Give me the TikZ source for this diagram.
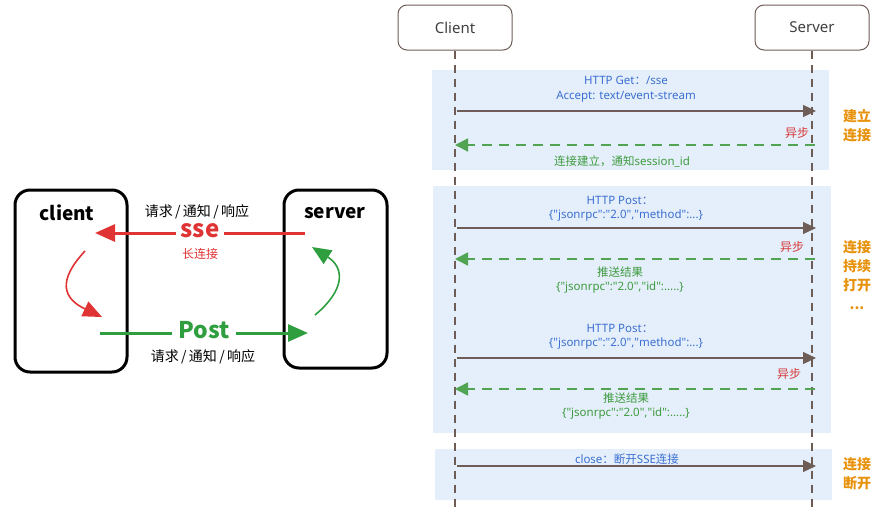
\documentclass[tikz,border=0pt]{standalone}
\usepackage{fontspec}
\setmainfont{Noto Sans}
\newfontfamily\cjk{Noto Sans CJK SC}
\usetikzlibrary{arrows.meta}
\definecolor{bluet}{HTML}{3C6FD1}
\definecolor{greent}{HTML}{3E9A3E}
\definecolor{redt}{HTML}{D63A3A}
\definecolor{oranget}{HTML}{E8920C}
\definecolor{brownl}{HTML}{6E5C56}
\definecolor{bgblue}{HTML}{E4EFFB}
\definecolor{redl}{HTML}{E03333}
\definecolor{greenl}{HTML}{2F9E3F}
\newcommand\qq{\textquotedbl}
\tikzset{
  fs/.style={font=\fontsize{#1}{#1}\selectfont},
  bigbox/.style={draw=black, line width=3, rounded corners=15, inner sep=0},
  actor/.style={draw=brownl, line width=1, rounded corners=9, minimum width=114, minimum height=45, fs=15, text=black!75},
  lifeline/.style={draw=brownl, line width=1.3, dash pattern=on 8pt off 6pt},
  bgband/.style={fill=bgblue, draw=none},
  callarrow/.style={draw=brownl, line width=1.2, -{Triangle[length=13,width=12]}},
  backarrow/.style={draw=greent!90, line width=1.6, dash pattern=on 10pt off 7pt, -{Triangle[length=13,width=13]}},
  bluetxt/.style={text=bluet, fs=11.5, inner sep=1},
  greentxt/.style={text=greent, fs=11.5, inner sep=1},
  asynctxt/.style={text=redt, font=\cjk\fontsize{12}{12}\selectfont, inner sep=1},
  phasetxt/.style={text=oranget, font=\cjk\bfseries\fontsize{14}{19}\selectfont, align=center, inner sep=1},
  handbig/.style={font=\cjk\bfseries\fontsize{#1}{#1}\selectfont},
  bigarrowR/.style={draw=redl, line width=3, -{Triangle[length=20,width=17]}},
  bigarrowG/.style={draw=greenl, line width=3, -{Triangle[length=20,width=17]}},
}
\begin{document}
\begin{tikzpicture}[x=1pt,y=-1pt]
\useasboundingbox (0,0) rectangle (881,520);

% ---------- left diagram ----------
\node[bigbox, minimum width=112, minimum height=182] (lclient) at (71,281) {};
\node[bigbox, minimum width=103, minimum height=178] (lserver) at (335.5,279) {};
\node[handbig=19] (lclientt) at (67,213) {client};
\node[handbig=19] (lservert) at (335,213) {server};

\coordinate (sseS) at (305,233);
\coordinate (sseE) at (95,233);
\draw[bigarrowR] (sseS) -- (sseE);
\node[fill=white, text=redl, handbig=24, inner sep=5] (sse) at (200,231) {sse};
\node[text=redl, font=\cjk\fontsize{12}{12}\selectfont, inner sep=1] (longc) at (200,254) {长连接};
\node[font=\cjk\fontsize{14}{14}\selectfont, inner sep=1] (reqtop) at (197,212) {请求\,/\,通知\,/\,响应};

\coordinate (postS) at (100,333);
\coordinate (postE) at (308,333);
\draw[bigarrowG] (postS) -- (postE);
\node[fill=white, text=greenl, handbig=23, inner sep=6] (post) at (204,330) {Post};
\node[font=\cjk\fontsize{14}{14}\selectfont, inner sep=1] (reqbot) at (203,357) {请求\,/\,通知\,/\,响应};

\coordinate (rc1) at (85,251);
\coordinate (rc2) at (102,317);
\draw[draw=redl, line width=1.6, -{Triangle[length=19,width=16]}] (rc1) .. controls (58,280) and (62,298) .. (rc2);
\coordinate (gc1) at (315,315);
\coordinate (gc2) at (312,247);
\draw[draw=greenl, line width=1.6, -{Triangle[length=19,width=16]}] (gc1) .. controls (345,290) and (345,268) .. (gc2);

% ---------- sequence diagram ----------
\fill[bgband] (432,70) rectangle (829,170);
\fill[bgband] (433,186) rectangle (831,433);
\fill[bgband] (435,449) rectangle (832,500);

\node[actor] (client) at (455,27.5) {Client};
\node[actor] (server) at (812,27.5) {Server};
\coordinate (cend) at (455,512);
\coordinate (send) at (812,512);
\draw[lifeline] (client.south) -- (cend);
\draw[lifeline] (server.south) -- (send);

% phase 1
\coordinate (c1) at (457,111); \coordinate (s1) at (816,111);
\draw[callarrow] (c1) -- (s1);
\node[bluetxt] (t1a) at (626,80) {HTTP Get{\cjk：}/sse};
\node[bluetxt] (t1b) at (626,97) {Accept: text/event-stream};
\coordinate (s2) at (815,145); \coordinate (c2) at (455,145);
\draw[backarrow] (s2) -- (c2);
\node[asynctxt] (a1) at (797,133) {异步};
\node[greentxt] (t2) at (622,162) {{\cjk 连接建立，通知}session\_id};
\node[phasetxt] (p1) at (857,126) {建立\\连接};

% phase 2
\coordinate (c3) at (457,228); \coordinate (s3) at (816,228);
\draw[callarrow] (c3) -- (s3);
\node[bluetxt] (t3a) at (620,200) {HTTP Post{\cjk：}};
\node[bluetxt] (t3b) at (626,216) {\{\qq jsonrpc\qq:\qq 2.0\qq,\qq method\qq:...\}};
\coordinate (s4) at (815,259); \coordinate (c4) at (455,259);
\draw[backarrow] (s4) -- (c4);
\node[asynctxt] (a2) at (792,247) {异步};
\node[greentxt] (t4a) at (620,272) {\cjk 推送结果};
\node[greentxt] (t4b) at (620,288) {\{\qq jsonrpc\qq:\qq 2.0\qq,\qq id\qq:.....\}};

\coordinate (c5) at (457,358); \coordinate (s5) at (816,358);
\draw[callarrow] (c5) -- (s5);
\node[bluetxt] (t5a) at (620,328) {HTTP Post{\cjk：}};
\node[bluetxt] (t5b) at (626,344) {\{\qq jsonrpc\qq:\qq 2.0\qq,\qq method\qq:...\}};
\coordinate (s6) at (815,389); \coordinate (c6) at (455,389);
\draw[backarrow] (s6) -- (c6);
\node[asynctxt] (a3) at (789,374) {异步};
\node[greentxt] (t6a) at (626,398) {\cjk 推送结果};
\node[greentxt] (t6b) at (626,414) {\{\qq jsonrpc\qq:\qq 2.0\qq,\qq id\qq:.....\}};
\node[phasetxt] (p2) at (857,275) {连接\\持续\\打开\\...};

% phase 3
\coordinate (c7) at (457,466); \coordinate (s7) at (816,466);
\draw[callarrow] (c7) -- (s7);
\node[bluetxt] (t7) at (627,459) {close{\cjk：断开}SSE{\cjk 连接}};
\node[phasetxt] (p3) at (857,474) {连接\\断开};
\end{tikzpicture}
\end{document}
